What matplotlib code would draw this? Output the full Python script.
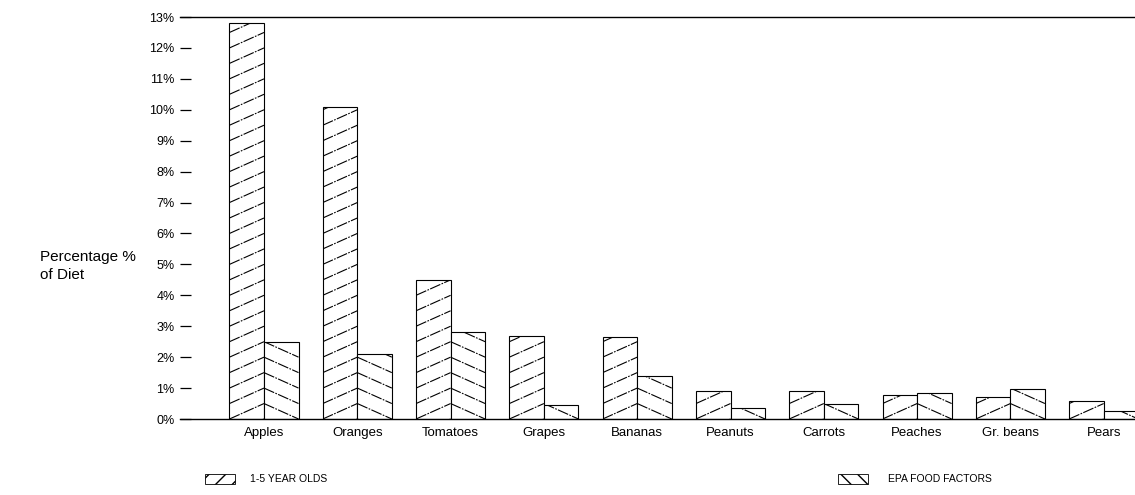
import matplotlib
matplotlib.use("Agg")
import matplotlib.pyplot as plt
import numpy as np
from matplotlib.patches import Rectangle
from matplotlib.collections import LineCollection

categories = ["Apples", "Oranges", "Tomatoes", "Grapes", "Bananas",
              "Peanuts", "Carrots", "Peaches", "Gr. beans", "Pears"]
kids = [12.8, 10.1, 4.5, 2.7, 2.65, 0.9, 0.9, 0.78, 0.72, 0.58]
epa = [2.5, 2.1, 2.8, 0.45, 1.4, 0.35, 0.47, 0.85, 0.97, 0.25]
ytick_vals = list(range(0, 14))
ytick_labels = [f"{v}%" for v in ytick_vals]
series_names = ["1-5 YEAR OLDS", "EPA FOOD FACTORS"]

plt.rcParams['font.family'] = ['Liberation Sans', 'DejaVu Sans']

W, H = 1135, 495
fig = plt.figure(figsize=(W / 100, H / 100), dpi=100)
ax = fig.add_axes([180 / W, 1 - 419 / H, (W - 180) / W, (419 - 17) / H])

x = np.arange(len(categories))
w = 0.37
step = 0.5

bars_k = ax.bar(x - w, kids, width=w, align='edge', facecolor='white',
                edgecolor='black', linewidth=0.8, zorder=2)
bars_e = ax.bar(x, epa, width=w, align='edge', facecolor='white',
                edgecolor='black', linewidth=0.8, zorder=2)

hatch_ls = (0, (10, 1.2, 1.5, 1.2))
# custom low-angle hatching forming chevrons at the bar junction
for i in range(len(categories)):
    segs = []
    for c in np.arange(-step, kids[i] + step, step):
        segs.append([(x[i] - w, c), (x[i], c + step)])
    lc = LineCollection(segs, colors='black', linewidths=0.8, zorder=3,
                        linestyles=hatch_ls)
    ax.add_collection(lc)
    lc.set_clip_path(bars_k[i])
    segs = []
    for c in np.arange(0, epa[i] + 2 * step, step):
        segs.append([(x[i], c), (x[i] + w, c - step)])
    lc = LineCollection(segs, colors='black', linewidths=0.8, zorder=3,
                        linestyles=hatch_ls)
    ax.add_collection(lc)
    lc.set_clip_path(bars_e[i])

ax.set_xlim((180 - 264) / 93.3, (W - 264) / 93.3)
ax.set_ylim(0, 13)
ax.set_yticks(ytick_vals)
ax.set_yticklabels(ytick_labels, fontsize=9)
ax.set_xticks(x)
ax.set_xticklabels(categories, fontsize=9.5)
ax.tick_params(axis='y', direction='in', length=8, width=0.9, pad=4)
ax.tick_params(axis='x', length=0, pad=6)
for s in ['left', 'right']:
    ax.spines[s].set_visible(False)
ax.spines['top'].set_linewidth(1.0)
ax.spines['bottom'].set_linewidth(1.0)

fig.text(40 / W, 1 - 266 / H, "Percentage %\nof Diet", fontsize=11,
         ha='left', va='center', linespacing=1.3)

# legend entries
def legend_patch(x0, hatch, label, tx):
    r = Rectangle((x0 / W, 1 - 484 / H), 30 / W, 10 / H, transform=fig.transFigure,
                  facecolor='white', edgecolor='black', linewidth=0.6, hatch=hatch)
    fig.add_artist(r)
    fig.text(tx / W, 1 - 479 / H, label, fontsize=7.5, ha='left', va='center')

legend_patch(205, '//', series_names[0], 250)
legend_patch(838, '\\\\', series_names[1], 888)

fig.savefig("out.png", dpi=100)
